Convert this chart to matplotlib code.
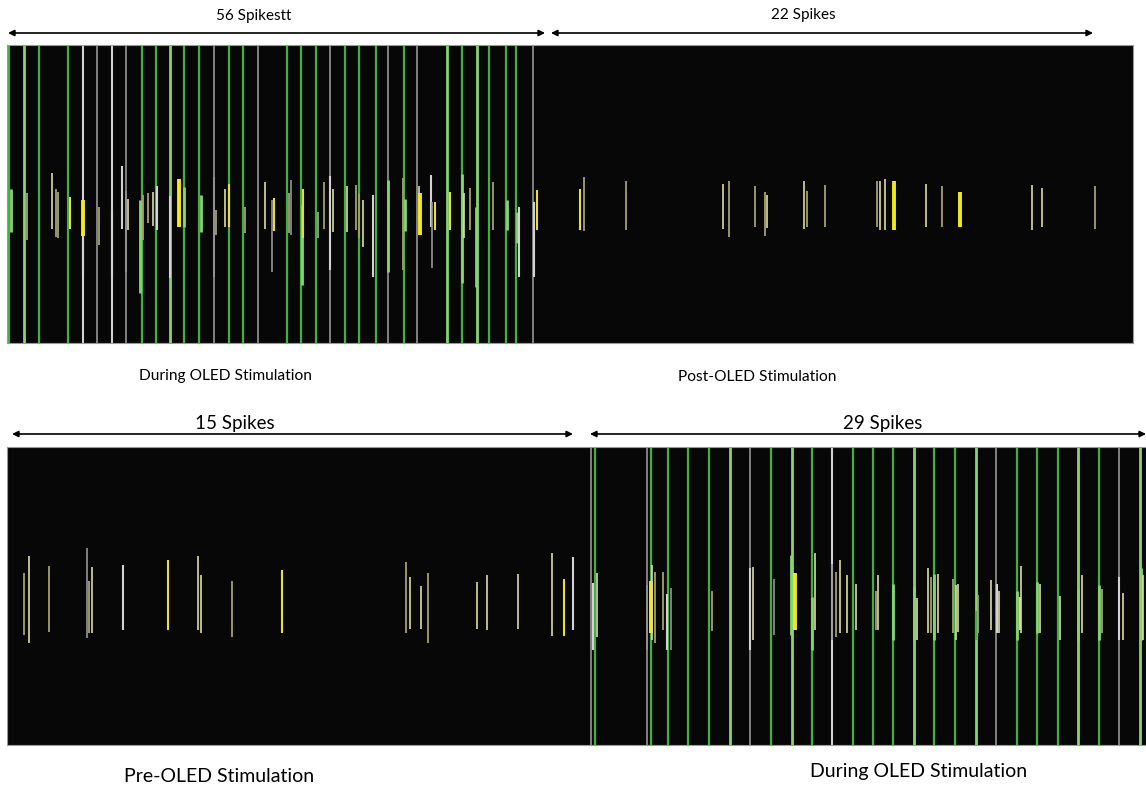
import matplotlib
matplotlib.use("Agg")
import matplotlib.pyplot as plt

plt.rcParams['font.family'] = ['Lato', 'DejaVu Sans']

# ---------------- data (time positions along the trace, amplitude extents) ----------------
# Top trace: stimulation artefacts (full height) during OLED stimulation
top_stim_x = [9, 24, 39, 68, 83, 97, 112, 126, 142, 156, 170, 184, 199, 214, 229, 243, 258,
              287, 301, 316, 330, 345, 359, 376, 388, 404, 417, 447, 462, 477, 489, 506, 516, 533]
top_stim_c = "gGggwkwkggGggkggkgggkgggkgkGgGgggk"

# Top trace: spikes during OLED stimulation
top_dur_x  = [11, 27, 52, 56, 58, 70, 83, 83, 99, 112, 122, 126, 128, 140, 143, 148, 153, 157, 170,
              179, 184, 201, 214, 216, 225, 229, 245, 265, 272, 274, 289, 291, 302, 303, 318, 324,
              330, 333, 347, 356, 359, 363, 373, 388, 403, 405, 419, 420, 431, 432, 435, 450, 462,
              464, 470, 476, 493, 507, 517, 519, 534, 537]
top_dur_lo = [189, 193, 173, 189, 192, 197, 200, 236, 207, 212, 166, 191, 199, 200, 195, 193, 192, 186, 196,
              179, 187, 195, 177, 210, 189, 184, 207, 182, 200, 198, 193, 180, 205, 189, 212, 182,
              176, 189, 186, 185, 194, 200, 195, 180, 178, 199, 186, 193, 175, 202, 202, 192, 174,
              193, 188, 207, 182, 200, 212, 207, 202, 190]
top_dur_hi = [232, 240, 229, 237, 238, 229, 236, 277, 245, 275, 229, 272, 230, 293, 240, 223, 226, 230, 278,
              227, 227, 232, 277, 235, 227, 227, 233, 229, 272, 231, 233, 235, 285, 238, 238, 229,
              270, 232, 232, 230, 238, 247, 277, 272, 270, 231, 220, 235, 227, 268, 230, 230, 283,
              238, 230, 287, 230, 230, 243, 277, 277, 230]
top_dur_c = "GopooyYwowwkpGoopwwYGGkopyopkyokGyoowppoopwGoGpYwkyyGpoGoGGwwy"

# Top trace: spikes after OLED stimulation
top_post_x  = [580, 584, 626, 723, 729, 755, 765, 767, 804, 807, 825, 877, 880, 885, 894,
               926, 942, 960, 1032, 1042, 1095]
top_post_lo = [189, 177, 181, 184, 181, 186, 192, 195, 181, 191, 185, 181, 181, 179, 181,
               184, 186, 192, 185, 188, 186]
top_post_hi = [230, 231, 230, 229, 237, 227, 236, 228, 229, 227, 227, 227, 230, 230, 230,
               227, 227, 227, 230, 227, 229]
top_post_c = "yoopoooppoooppYpoYppo"

# Bottom trace: spikes before OLED stimulation
bot_pre_x  = [24, 29, 49, 87, 89, 92, 123, 168, 198, 201, 232, 282,
              406, 410, 421, 428, 477, 487, 518, 552, 564, 573]
bot_pre_lo = [573, 556, 566, 548, 581, 567, 565, 560, 556, 575, 581, 570,
              562, 577, 586, 573, 582, 575, 574, 553, 579, 557]
bot_pre_hi = [635, 643, 632, 638, 633, 633, 630, 630, 630, 633, 637, 633,
              633, 629, 629, 643, 629, 630, 629, 636, 636, 630]
bot_pre_c = "opokopwyppoyoppoppppyw"

# Bottom trace: stimulation artefacts during OLED stimulation
bot_stim_x = [591, 595, 647, 651, 668, 688, 709, 730, 750, 771, 792, 812, 832, 853, 873, 893,
              914, 934, 955, 976, 996, 1017, 1037, 1058, 1078, 1099, 1119, 1140]
bot_stim_c = "kgkggggGkgGgwgggGggGkgggGgkG"

# Bottom trace: spikes during OLED stimulation
bot_dur_x  = [593, 597, 647, 651, 652, 655, 663, 667, 671, 712, 750, 753, 774, 791, 795, 812,
              815, 832, 836, 840, 847, 856, 876, 878, 893, 914, 917, 928, 931, 934, 938, 953,
              956, 958, 976, 978, 991, 997, 999, 1017, 1020, 1021, 1037, 1040, 1060, 1078, 1082,
              1099, 1102, 1119, 1123, 1141, 1143]
bot_dur_lo = [583, 573, 585, 581, 565, 572, 572, 594, 588, 591, 568, 567, 579, 555, 573, 597,
              553, 564, 572, 560, 575, 584, 591, 575, 584, 586, 598, 568, 577, 574, 574, 579,
              585, 584, 611, 595, 580, 584, 591, 591, 597, 566, 582, 584, 596, 589, 575,
              585, 589, 577, 593, 568, 575]
bot_dur_hi = [650, 637, 650, 633, 640, 643, 630, 650, 650, 631, 650, 640, 635, 635, 630, 650,
              630, 640, 637, 633, 633, 630, 630, 630, 640, 640, 640, 633, 633, 640, 633, 633,
              640, 632, 640, 633, 630, 633, 633, 640, 630, 633, 633, 633, 640, 640, 633,
              640, 633, 640, 640, 640, 640]
bot_dur_c = "wpkYpoowkowpkGYGpkopppopGGppoGpoppgopwpGypGppGpGowpGp"

# Text
top_counts = ["56 Spikestt", "22 Spikes"]
top_labels = ["During OLED Stimulation", "Post-OLED Stimulation"]
bot_counts = ["15 Spikes", "29 Spikes"]
bot_labels = ["Pre-OLED Stimulation", "During OLED Stimulation"]

# ---------------- styles ----------------
COL = {'g': '#41b041', 'G': '#86d56e', 'k': '#959595', 'w': '#d2d2d2', 'y': '#e6de3c',
       'Y': '#f2e81e', 'p': '#dcdca0', 'o': '#a3a070'}
LW = {'g': 1.6, 'G': 2.0, 'k': 1.2, 'w': 1.5, 'y': 1.5, 'Y': 2.8, 'p': 1.2, 'o': 1.3}

W, H = 1146, 786
fig = plt.figure(figsize=(W / 100, H / 100), dpi=100)
fig.patch.set_facecolor('white')


def panel(x0, x1, y0, y1):
    ax = fig.add_axes([x0 / W, 1 - y1 / H, (x1 - x0) / W, (y1 - y0) / H])
    ax.set_facecolor('#070707')
    ax.set_xlim(x0, x1)
    ax.set_ylim(y1, y0)
    ax.set_xticks([])
    ax.set_yticks([])
    for s in ax.spines.values():
        s.set_color('#9a9a9a')
        s.set_linewidth(0.8)
    return ax


def draw_lines(ax, xs, lo, hi, cs):
    ax.vlines(xs, lo, hi, colors=[COL[c] for c in cs], linewidths=[LW[c] for c in cs])


# top panel
axt = panel(7, 1133, 45, 343)
draw_lines(axt, top_stim_x, 45, 343, top_stim_c)
draw_lines(axt, top_dur_x, top_dur_lo, top_dur_hi, top_dur_c)
draw_lines(axt, top_post_x, top_post_lo, top_post_hi, top_post_c)

# bottom panel
axb = panel(7, 1146, 447, 745)
draw_lines(axb, bot_stim_x, 447, 745, bot_stim_c)
draw_lines(axb, bot_pre_x, bot_pre_lo, bot_pre_hi, bot_pre_c)
draw_lines(axb, bot_dur_x, bot_dur_lo, bot_dur_hi, bot_dur_c)

# overlay for annotation
ov = fig.add_axes([0, 0, 1, 1], facecolor='none')
ov.set_xlim(0, W)
ov.set_ylim(H, 0)
ov.axis('off')

arrow_kw = dict(arrowstyle='<|-|>', color='black', lw=1.2, mutation_scale=9,
                shrinkA=0, shrinkB=0)
for (xa, xb, y) in [(8, 545, 33), (551, 1093, 33), (12, 573, 434), (590, 1146, 434)]:
    ov.annotate('', xy=(xa, y), xytext=(xb, y), arrowprops=arrow_kw)

ov.text(254, 16, top_counts[0], ha='center', va='center', fontsize=11)
ov.text(803, 15, top_counts[1], ha='center', va='center', fontsize=11)
ov.text(225, 376, top_labels[0], ha='center', va='center', fontsize=11.2)
ov.text(757, 377, top_labels[1], ha='center', va='center', fontsize=11.2)
ov.text(235, 423, bot_counts[0], ha='center', va='center', fontsize=13.5)
ov.text(883, 424, bot_counts[1], ha='center', va='center', fontsize=13.5)
ov.text(219, 776, bot_labels[0], ha='center', va='center', fontsize=14)
ov.text(919, 771, bot_labels[1], ha='center', va='center', fontsize=14)

fig.savefig('out.png', dpi=100)
